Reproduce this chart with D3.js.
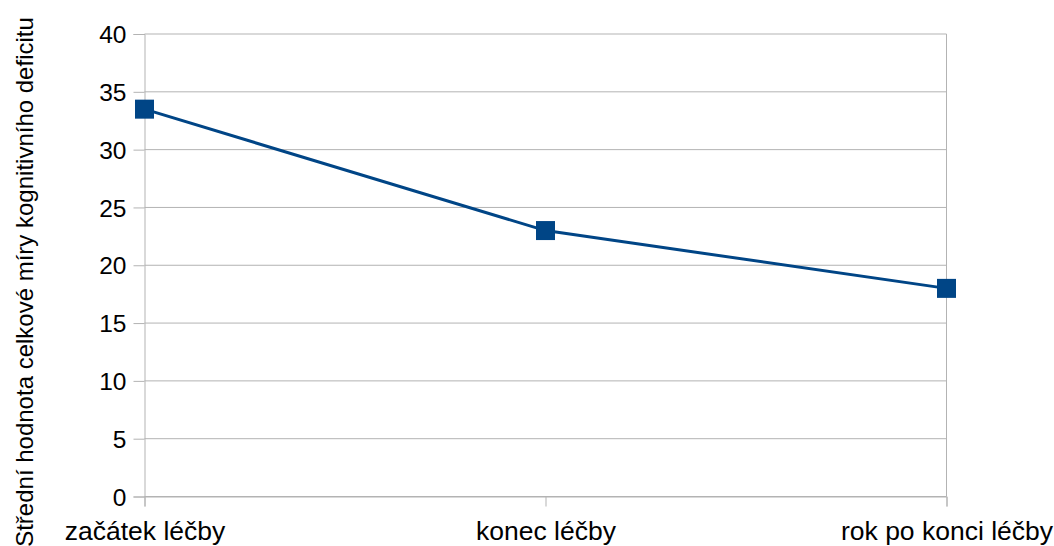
<!DOCTYPE html>
<html>
<head>
<meta charset="utf-8">
<script src="https://cdn.jsdelivr.net/npm/d3@7"></script>
<style>
  html, body { margin: 0; padding: 0; background: #fff; }
  svg { display: block; font-family: "Liberation Sans", Arial, sans-serif; }
</style>
</head>
<body>
<svg id="chart" width="1054" height="546"></svg>
<script>
// Phases of treatment and the mean total cognitive-deficit score at each
const categories = ["začátek léčby", "konec léčby", "rok po konci léčby"];
const values = [33.5, 23, 18];
const yTicks = [0, 5, 10, 15, 20, 25, 30, 35, 40];
const yTitle = "Střední hodnota celkové míry kognitivního deficitu";

const svg = d3.select("#chart");
const plotLeft = 144.5, plotRight = 946.5, plotTop = 34, plotBottom = 496.5;

const x = d3.scalePoint().domain(categories).range([plotLeft, plotRight]).padding(0);
const y = d3.scaleLinear().domain([0, 40]).range([plotBottom, plotTop]);

const gridColor = "#b3b3b3";

// horizontal gridlines
svg.append("g")
  .selectAll("line")
  .data(yTicks)
  .join("line")
  .attr("x1", plotLeft).attr("x2", plotRight)
  .attr("y1", d => y(d)).attr("y2", d => y(d))
  .attr("stroke", gridColor).attr("stroke-width", 1);

// right-hand wall edge
svg.append("line")
  .attr("x1", plotRight).attr("x2", plotRight)
  .attr("y1", plotTop).attr("y2", plotBottom)
  .attr("stroke", gridColor).attr("stroke-width", 1);

// y axis
const yAxis = svg.append("g")
  .attr("transform", `translate(${plotLeft},0)`)
  .call(d3.axisLeft(y).tickValues(yTicks).tickSize(11).tickPadding(7));
yAxis.select(".domain").attr("stroke", gridColor);
yAxis.selectAll(".tick line").attr("stroke", gridColor);
yAxis.selectAll(".tick text")
  .attr("fill", "#000").attr("font-size", 24.5)
  .attr("font-family", "Liberation Sans, Arial, sans-serif")
  .attr("dy", "0.35em");

// x axis
const xAxis = svg.append("g")
  .attr("transform", `translate(0,${plotBottom})`)
  .call(d3.axisBottom(x).tickSize(10).tickPadding(15));
xAxis.select(".domain").attr("stroke", gridColor);
xAxis.selectAll(".tick line").attr("stroke", gridColor);
xAxis.selectAll(".tick text")
  .attr("fill", "#000").attr("font-size", 26.5)
  .attr("font-family", "Liberation Sans, Arial, sans-serif");

// y axis title
svg.append("text")
  .attr("transform", "translate(33,282) rotate(-90)")
  .attr("text-anchor", "middle")
  .attr("font-size", 24)
  .attr("fill", "#000")
  .text(yTitle);

// series line
const lineColor = "#004586";
svg.append("path")
  .datum(values)
  .attr("fill", "none")
  .attr("stroke", lineColor)
  .attr("stroke-width", 3)
  .attr("d", d3.line().x((d, i) => x(categories[i])).y(d => y(d)));

// square markers
const m = 19;
svg.append("g")
  .selectAll("rect")
  .data(values)
  .join("rect")
  .attr("x", (d, i) => x(categories[i]) - m / 2)
  .attr("y", d => y(d) - m / 2)
  .attr("width", m).attr("height", m)
  .attr("fill", lineColor);
</script>
</body>
</html>
